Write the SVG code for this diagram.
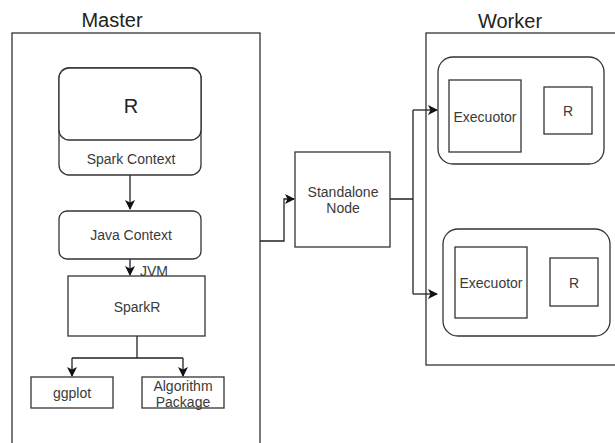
<svg xmlns="http://www.w3.org/2000/svg" width="615" height="443" viewBox="0 0 615 443">
  <defs>
    <style>
      .box { fill: #ffffff; stroke: #333333; stroke-width: 1.3; }
      .frame { fill: none; stroke: #333333; stroke-width: 1.3; }
      .wire { fill: none; stroke: #222222; stroke-width: 1.3; }
      .lbl { font-family: "Liberation Sans", Arial, sans-serif; font-size: 14px; fill: #3a3a3a; text-anchor: middle; }
      .title { font-family: "Liberation Sans", Arial, sans-serif; font-size: 20px; fill: #222222; text-anchor: middle; }
    </style>
    <marker id="arrow" viewBox="0 0 10 10" refX="9" refY="5" markerWidth="10" markerHeight="10" orient="auto" markerUnits="userSpaceOnUse">
      <path d="M0,0 L10,5 L0,10 L2.5,5 Z" fill="#111111"/>
    </marker>
  </defs>
  <rect width="615" height="443" fill="#ffffff"/>

  <!-- Master frame -->
  <g id="master">
    <rect class="frame" x="12" y="33" width="248" height="430"/>
    <text class="title" x="112" y="27">Master</text>
  </g>

  <!-- Worker frame -->
  <g id="worker">
    <rect class="frame" x="426" y="33" width="210" height="332"/>
    <text class="title" x="510" y="28">Worker</text>
  </g>

  <!-- Connectors -->
  <g id="connectors">
    <path class="wire" d="M130,175 V209" marker-end="url(#arrow)"/>
    <path class="wire" d="M130,259 V275" marker-end="url(#arrow)"/>
    <path class="wire" d="M137,336 V358 M72,358 H183"/>
    <path class="wire" d="M72,358 V376" marker-end="url(#arrow)"/>
    <path class="wire" d="M183,358 V376" marker-end="url(#arrow)"/>
    <path class="wire" d="M260,241 H284 V199 H294" marker-end="url(#arrow)"/>
    <path class="wire" d="M390,199 H413 M413,110 V294"/>
    <path class="wire" d="M413,110 H437" marker-end="url(#arrow)"/>
    <path class="wire" d="M413,294 H437" marker-end="url(#arrow)"/>
  </g>

  <text class="lbl" x="154" y="276">JVM</text>

  <!-- R with Spark Context -->
  <g id="spark-context">
    <rect class="box" x="59" y="68" width="142" height="107" rx="10"/>
    <rect class="box" x="59" y="68" width="142" height="72" rx="10"/>
    <text class="title" x="131" y="113">R</text>
    <text class="lbl" x="131" y="164">Spark Context</text>
  </g>

  <g id="java-context">
    <rect class="box" x="59" y="211" width="142" height="48" rx="8"/>
    <text class="lbl" x="131" y="240">Java Context</text>
  </g>

  <g id="sparkr">
    <rect class="box" x="68" y="276" width="137" height="60"/>
    <text class="lbl" x="137" y="312">SparkR</text>
  </g>

  <g id="ggplot">
    <rect class="box" x="31" y="377" width="82" height="31"/>
    <text class="lbl" x="72" y="398">ggplot</text>
  </g>

  <g id="algorithm-package">
    <rect class="box" x="142" y="377" width="82" height="31"/>
    <text class="lbl" x="183" y="391">Algorithm</text>
    <text class="lbl" x="183" y="407">Package</text>
  </g>

  <g id="standalone-node">
    <rect class="box" x="295" y="152" width="95" height="95"/>
    <text class="lbl" x="343" y="197">Standalone</text>
    <text class="lbl" x="343" y="213">Node</text>
  </g>

  <g id="worker-1">
    <rect class="box" x="438" y="57" width="166" height="107" rx="15"/>
    <rect class="box" x="449" y="80" width="72" height="72"/>
    <text class="lbl" x="485" y="122">Execuotor</text>
    <rect class="box" x="544" y="87" width="48" height="47"/>
    <text class="lbl" x="568" y="116">R</text>
  </g>

  <g id="worker-2">
    <rect class="box" x="443" y="229" width="167" height="107" rx="15"/>
    <rect class="box" x="455" y="247" width="72" height="71"/>
    <text class="lbl" x="491" y="288">Execuotor</text>
    <rect class="box" x="550" y="258" width="48" height="48"/>
    <text class="lbl" x="574" y="288">R</text>
  </g>
</svg>
